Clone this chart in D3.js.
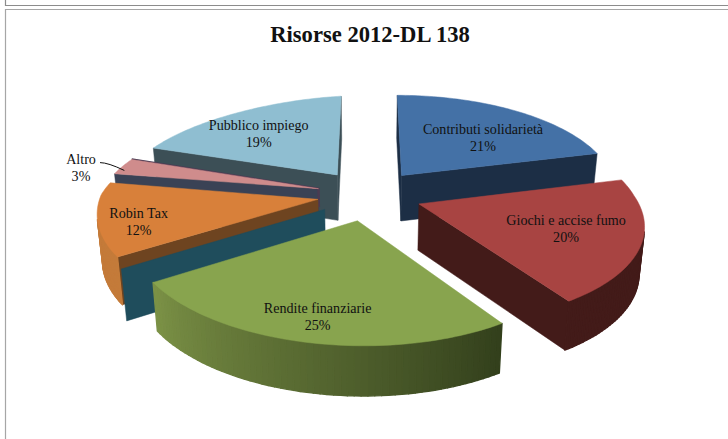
<!DOCTYPE html>
<html><head><meta charset="utf-8">
<style>html,body{margin:0;padding:0;background:#fff}svg{display:block}
text{font-family:"Liberation Serif",serif;fill:#111}</style>
<script src="https://cdnjs.cloudflare.com/ajax/libs/d3/7.8.5/d3.min.js"></script>
</head><body><svg id="chart" width="728" height="439"></svg>
<script>
const chartTitle = "Risorse 2012-DL 138";
const categories = ["Contributi solidarietà","Giochi e accise fumo","Rendite finanziarie","Robin Tax","Altro","Pubblico impiego"];
const percentages = [21,20,25,12,3,19];
const topColors = ["#4471a6","#a84442","#88a44e","#d8803a","#cf8c8c","#8fbed1"];
const wallColors = ["#1c2e45","#431b19","#6f8640","#6e4420","#3a4255","#3c4f56"];
const outerFrom = ["#1c2e45","#431b19","#33401c","#c47b3a","#a8706f","#6d929f"];
const outerTo = ["#1c2e45","#431b19","#7b9146","#c47b3a","#a8706f","#6d929f"];
const drawOrder = [5,0,4,3,1,2];
// Distance each wedge is pulled out of the pie, in radii
const explode = [.26,.245,.26,.235,.24,.26];
const labelNudge = [[9,8.5],[12,6],[-10,30],[-44,15],[-114,-2],[-12.5,4.5]];

const W = 728, H = 439, cx = 368, cy = 195, R = 217, tilt = .45, persp = .15, depth = 46;
const svg = d3.select("#chart");

// Ground-plane point to screen: camera perspective plus a slight skew of the
// near half and a slight drop of the far-left quarter; z=1 is the pie's underside
function project(gx, gy, z = 0) {
  const s = 1 / (1 - persp * gy);
  const shrink = 1 - .02 * z;
  const skew = .04 * Math.max(0, gy);
  const roll = .04 * Math.min(0, gx) * Math.min(0, gy);
  return [cx + R * (gx * s + skew) * shrink,
          cy + R * (tilt * gy * s + roll) * shrink + depth * Math.pow(s, .7) * z];
}
const dir = a => [Math.sin(a), -Math.cos(a)];
const arcs = d3.pie().sort(null)(percentages);

const line = d3.line();
function poly(parent, pts, fill, sw = .5) {
  parent.append("path").attr("d", line(pts) + "Z").attr("fill", fill)
    .attr("stroke", fill).attr("stroke-width", sw).attr("stroke-linejoin", "round");
}

// Window frames behind the chart
const frameColor = "#8c8c8c";
svg.append("path").attr("d", `M5.5,0V5.5H${W}`).attr("fill","none").attr("stroke",frameColor).attr("stroke-width",1.2);
svg.append("path").attr("d", `M5.5,${H}V9.5H${W}`).attr("fill","none").attr("stroke","#a6a6a6").attr("stroke-width",1.2);

svg.append("text").attr("x", 370).attr("y", 42).attr("text-anchor","middle")
  .attr("font-size", 22.6).attr("font-weight","bold").attr("fill","#000").text(chartTitle);

const pie = svg.append("g");
drawOrder.forEach(i => {
  const d = arcs[i], mid = (d.startAngle + d.endAngle) / 2;
  const m = dir(mid), ax = m[0] * explode[i], ay = m[1] * explode[i];
  const rim = t => { const a = d.startAngle + (d.endAngle - d.startAngle) * t, q = dir(a); return [ax + q[0], ay + q[1]]; };
  const steps = d3.range(0, 61).map(k => k / 60);
  const rimPts = steps.map(rim);
  const g = pie.append("g");

  // Radial walls
  const start = rim(0), end = rim(1);
  const sW = [project(ax,ay), project(...start), project(...start,1), project(ax,ay,1)];
  const eW = [project(...end), project(ax,ay), project(ax,ay,1), project(...end,1)];
  if (d3.polygonArea(sW) > 0) poly(g, sW, wallColors[i]);
  if (d3.polygonArea(eW) > 0) poly(g, eW, wallColors[i]);

  // Curved outer wall, shaded strip by strip
  const shade = d3.interpolateRgb(outerFrom[i], outerTo[i]);
  d3.pairs(rimPts).forEach(([a,b], k) => {
    const q = [project(...a), project(...b), project(...b,1), project(...a,1)];
    if (d3.polygonArea(q) > 0) poly(g, q, shade(k / 59), 1.4);
  });

  // Robin Tax: lower, darker panel in front of its wall
  if (i === 3) {
    const sh = [.03, .1], over = 1;
    const a0 = [start[0] + sh[0], start[1] + sh[1]];
    const a1 = [start[0] + (ax - start[0]) * over + sh[0], start[1] + (ay - start[1]) * over + sh[1]];
    poly(g, [project(...a1), project(...a0), project(...a0,1.08), project(...a1,1.08)], "#1f4d5c");
  }
  // Altro: thin dark rim along its back edge
  if (i === 4) {
    g.append("path").attr("d", line([project(...end), project(ax,ay), project(ax,ay,.4)]))
      .attr("fill","none").attr("stroke","#4b3a52").attr("stroke-width",2.4);
  }

  // Top face
  poly(g, [project(ax,ay), ...rimPts.map(p => project(...p))], topColors[i]);
});

// Data labels
const labels = svg.append("g").attr("text-anchor","middle").attr("font-size",14.1);
arcs.forEach((d, i) => {
  const mid = (d.startAngle + d.endAngle) / 2, m = dir(mid), f = explode[i] + .62;
  const p = project(m[0] * f, m[1] * f);
  const x = p[0] + labelNudge[i][0], y = p[1] + labelNudge[i][1];
  labels.append("text").attr("x", x).attr("y", y - 8.5).text(categories[i]);
  labels.append("text").attr("x", x).attr("y", y + 8.5).text(d3.format("d")(percentages[i]) + "%");
  if (i === 4) {
    const o = project(m[0] * (explode[i] + 1) , m[1] * (explode[i] + 1));
    const c = d3.path();
    c.moveTo(x + 19, y - 9.5);
    c.quadraticCurveTo(x + 27, y - 9.5, o[0] + 2, o[1] + 4);
    svg.append("path").attr("d", c.toString()).attr("fill","none").attr("stroke","#111").attr("stroke-width",1);
  }
});
</script></body></html>
